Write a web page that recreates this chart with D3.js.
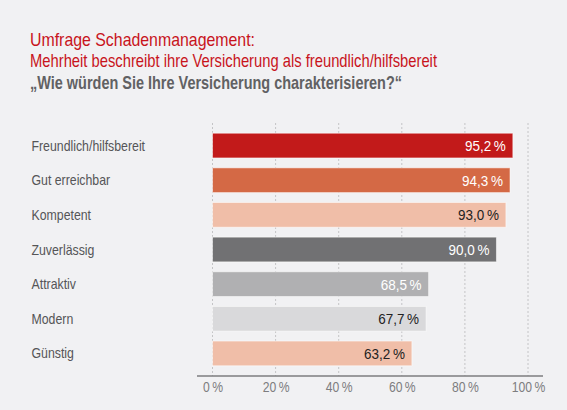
<!DOCTYPE html>
<html>
<head>
<meta charset="utf-8">
<script src="https://cdn.jsdelivr.net/npm/d3@7"></script>
<style>
  html, body { margin: 0; padding: 0; background: #f1f1f3; }
  svg { display: block; }
  text { font-family: "Liberation Sans", Arial, sans-serif; }
</style>
</head>
<body>
<svg id="chart"></svg>
<script>
const categories = ["Freundlich/hilfsbereit", "Gut erreichbar", "Kompetent", "Zuverlässig", "Attraktiv", "Modern", "Günstig"];
const values = [95.2, 94.3, 93.0, 90.0, 68.5, 67.7, 63.2];
const valueLabels = ["95,2\u202F%", "94,3\u202F%", "93,0\u202F%", "90,0\u202F%", "68,5\u202F%", "67,7\u202F%", "63,2\u202F%"];
const barColors = ["#c21a1a", "#d46945", "#f0bea8", "#717173", "#b0b0b2", "#d9d9db", "#f0bea8"];
const labelColors = ["#fff", "#fff", "#222", "#fff", "#fff", "#222", "#222"];
const xTicks = [0, 20, 40, 60, 80, 100];
const titleLines = [
    "Umfrage Schadenmanagement:",
    "Mehrheit beschreibt ihre Versicherung als freundlich/hilfsbereit",
    "„Wie würden Sie Ihre Versicherung charakterisieren?“"
];

const W = 567, H = 410;

const svg = d3.select('#chart')
    .attr('width', W)
    .attr('height', H);

svg.append('rect')
   .attr('width', W)
   .attr('height', H)
   .attr('fill', '#f1f1f3');

// titles
const titleStyle = [
    {y: 46, fill: '#c8141c', weight: 'normal', len: 225},
    {y: 67, fill: '#c8141c', weight: 'normal', len: 407},
    {y: 89, fill: '#616163', weight: 'bold', len: 372}
];
svg.selectAll('text.title')
   .data(titleLines)
   .join('text')
   .attr('class', 'title')
   .attr('x', 30)
   .attr('y', (d, i) => titleStyle[i].y)
   .attr('font-size', '18.5px')
   .attr('font-weight', (d, i) => titleStyle[i].weight)
   .attr('fill', (d, i) => titleStyle[i].fill)
   .attr('textLength', (d, i) => titleStyle[i].len)
   .attr('lengthAdjust', 'spacingAndGlyphs')
   .text(d => d);

const x = d3.scaleLinear()
    .domain([0, 100])
    .range([212.5, 528]);

const y = d3.scaleBand()
    .domain(categories)
    .range([128, 371])
    .paddingInner(0.285)
    .paddingOuter(0.15);

// dotted gridlines
svg.append('g')
   .selectAll('line')
   .data(xTicks)
   .join('line')
   .attr('x1', d => x(d))
   .attr('x2', d => x(d))
   .attr('y1', 123)
   .attr('y2', 376)
   .attr('stroke', '#c4c4c6')
   .attr('stroke-width', 1)
   .attr('stroke-dasharray', '2,2');

// bars
svg.append('g')
   .selectAll('rect')
   .data(values)
   .join('rect')
   .attr('x', x(0))
   .attr('y', (d, i) => y(categories[i]))
   .attr('width', d => x(d) - x(0))
   .attr('height', y.bandwidth())
   .attr('fill', (d, i) => barColors[i])
   .attr('stroke', 'rgba(255,255,255,0.55)')
   .attr('stroke-width', 1);

// value labels
svg.append('g')
   .selectAll('text')
   .data(values)
   .join('text')
   .attr('transform', (d, i) => `translate(${x(d) - 7},${y(categories[i]) + y.bandwidth() / 2}) scale(0.9,1)`)
   .attr('dy', '0.36em')
   .attr('text-anchor', 'end')
   .attr('font-size', '15px')
   .attr('fill', (d, i) => labelColors[i])
   .text((d, i) => valueLabels[i]);

// category labels
svg.append('g')
   .selectAll('text')
   .data(categories)
   .join('text')
   .attr('transform', d => `translate(31.5,${y(d) + y.bandwidth() / 2}) scale(0.88,1)`)
   .attr('dy', '0.36em')
   .attr('font-size', '14px')
   .attr('fill', '#555557')
   .text(d => d);

// x axis
const xAxis = d3.axisBottom(x)
    .tickValues(xTicks)
    .tickSize(0)
    .tickPadding(6)
    .tickFormat(d => d + '\u202F%');

const axisG = svg.append('g')
   .attr('transform', 'translate(0,376)')
   .call(xAxis);

axisG.select('.domain').remove();
axisG.append('line')
   .attr('x1', 197)
   .attr('x2', 543)
   .attr('stroke', '#7d7d7f')
   .attr('stroke-width', 1.6);

axisG.selectAll('.tick text')
   .attr('font-family', '"Liberation Sans", Arial, sans-serif')
   .attr('font-size', '14px')
   .attr('fill', '#7d7d7f')
   .attr('transform', 'scale(0.87,1)');
</script>
</body>
</html>
